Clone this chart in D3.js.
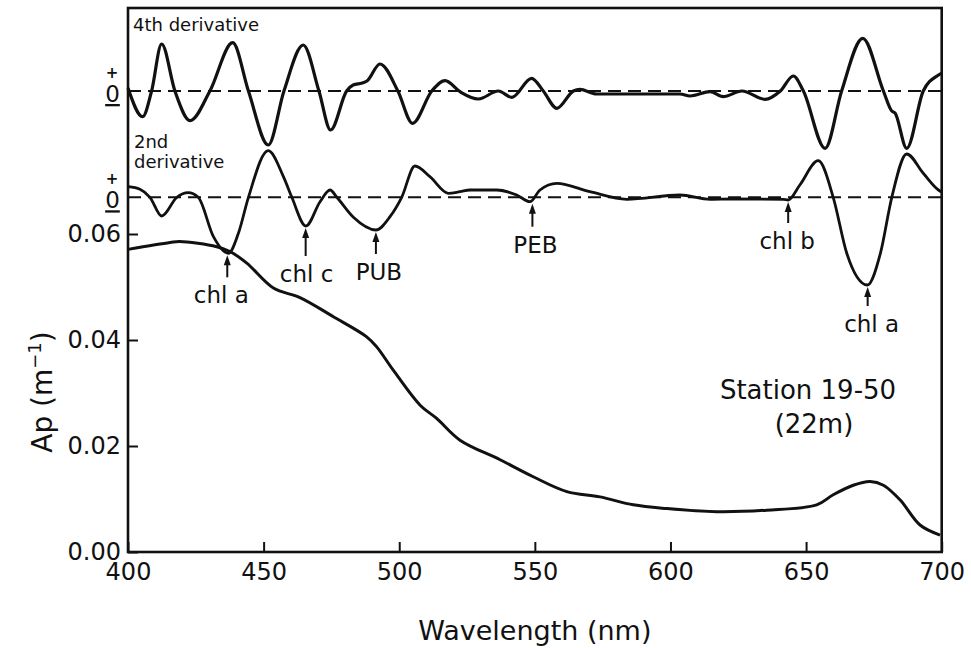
<!DOCTYPE html>
<html>
<head>
<meta charset="utf-8">
<script src="https://cdn.jsdelivr.net/npm/d3@7"></script>
<style>
  html, body { margin: 0; padding: 0; background: #fff; }
  svg { display: block; }
  text { font-family: "DejaVu Sans", "Liberation Sans", Arial, sans-serif; fill: #111; }
</style>
</head>
<body>
<svg id="chart" width="971" height="648"></svg>
<script>
// ---------------- DATA ----------------
const xTicks = [400, 450, 500, 550, 600, 650, 700];
const yTicks = [0.00, 0.02, 0.04, 0.06];

// Particulate absorption Ap (m^-1) vs wavelength (nm)
const apWavelength = [400, 415.5, 419, 432.7, 437.6, 443.8, 453.6, 463.4, 475.7, 488, 491.7, 497.8, 507.7, 513.8, 522.4, 537.2, 549.4, 561.8, 574, 586.3, 598.6, 617, 635.5, 653.9, 660, 667.4, 673.6, 678.5, 684.7, 692, 699.4];
const apValue      = [0.0571, 0.0584, 0.0586, 0.0576, 0.0567, 0.0545, 0.0498, 0.0480, 0.0444, 0.0406, 0.0387, 0.0343, 0.0277, 0.0252, 0.0211, 0.0174, 0.0142, 0.0114, 0.0104, 0.0089, 0.0082, 0.0076, 0.0079, 0.0089, 0.0108, 0.0126, 0.0133, 0.0126, 0.0098, 0.0051, 0.0032];

// 4th derivative (relative units)
const d4Wavelength = [400, 405.4, 408.7, 412.4, 417.3, 422.9, 430.2, 438.6, 444.4, 451.7, 457.5, 464.6, 470.4, 474.7, 480.6, 483, 486.3, 488.1, 492.9, 499.5, 504.9, 512, 516.9, 522.4, 529.2, 536.5, 541.5, 548.8, 553.1, 558.1, 564.2, 566.6, 572.8, 585, 603.5, 607.2, 614.6, 619.4, 626.3, 634.9, 640.5, 645.3, 649, 657, 663.1, 670.9, 678.5, 681.6, 682.8, 687.1, 693.2, 698.8, 700];
const d4Value      = [0.3, -2.57, 0, 4.7, 0, -2.97, 0, 4.83, 0, -5.4, 0, 4.6, 0, -3.9, 0, 0.6, 0.8, 1.0, 2.7, 0, -3.23, 0, 1.03, -0.07, -0.8, 0, -0.63, 1.27, 0, -1.73, 0, 0.17, -0.3, -0.3, -0.3, -0.5, -0.07, -0.57, 0, -0.83, 0, 1.5, 0, -5.73, 0, 5.27, 0, -2.0, -2.2, -5.73, 0, 1.6, 1.8];

// 2nd derivative (relative units)
const d2Wavelength = [400.1, 404.4, 408.1, 412.4, 418, 422.2, 425.9, 431.5, 437, 440.7, 444.4, 451.7, 457.3, 460.4, 465.6, 470.8, 474.5, 477, 483.1, 491.4, 496.6, 500.9, 505.8, 511.3, 518.1, 522.4, 526.1, 535.9, 543.3, 548.2, 551.9, 558.1, 570.3, 583.9, 603.5, 614.6, 623.2, 641.6, 643.4, 647.7, 654.5, 660, 665, 672.6, 677.4, 681.6, 687.1, 693.2, 698.8, 700];
const d2Value      = [1.06, 0.8, 0, -1.87, 0, 0.46, 0, -3.94, -5.6, -3.6, 0, 4.66, 2.06, 0, -2.87, -0.44, 0.73, 0, -2.0, -3.27, -1.94, 0, 3.13, 2.06, 0.4, 0.56, 0.73, 0.73, 0.23, -0.44, 0.73, 1.4, 0.56, -0.2, 0.23, -0.2, -0.17, -0.2, -0.27, 1.23, 3.66, 0, -5.6, -8.77, -5.6, 0, 4.33, 2.4, 0.73, 0.53];

// Pigment annotations on the 2nd derivative minima
const annLabels     = ["chl a", "chl c", "PUB", "PEB", "chl b", "chl a"];
const annWavelength = [436.6, 465.5, 491.4, 549.1, 643.4, 672.7];
const annValue      = [-5.6, -2.87, -3.27, -0.44, -0.27, -8.77];

const stationLines = ["Station 19-50", "(22m)"];

// ---------------- LAYOUT ----------------
const svg = d3.select("#chart");
const L = 128, R = 941.7, T = 8, B = 552;

const x = d3.scaleLinear().domain([400, 700]).range([L, R]);
const y = d3.scaleLinear().domain([0, 0.06]).range([B, 234]);
const y4 = d3.scaleLinear().domain([-1, 1]).range([91 + 10, 91 - 10]);
const y2 = d3.scaleLinear().domain([-1, 1]).range([197.3 + 10, 197.3 - 10]);

const ink = "#111";

// Axes
const xAxis = d3.axisBottom(x).tickValues(xTicks).tickSizeInner(-10).tickSizeOuter(0).tickPadding(11).tickFormat(d3.format("d"));
const gx = svg.append("g").attr("transform", `translate(0,${B})`).call(xAxis);
gx.select(".domain").remove();
gx.selectAll(".tick line").attr("stroke", ink).attr("stroke-width", 2);
gx.selectAll(".tick text").attr("font-size", 24).attr("fill", ink);

const yAxis = d3.axisLeft(y).tickValues(yTicks).tickSizeInner(-10).tickSizeOuter(0).tickPadding(7).tickFormat(d3.format(".2f"));
const gy = svg.append("g").attr("transform", `translate(${L},0)`).call(yAxis);
gy.select(".domain").remove();
gy.selectAll(".tick line").attr("stroke", ink).attr("stroke-width", 2);
gy.selectAll(".tick text").attr("font-size", 24).attr("fill", ink);

// Frame
svg.append("rect").attr("x", L).attr("y", T).attr("width", R - L).attr("height", B - T)
  .attr("fill", "none").attr("stroke", ink).attr("stroke-width", 2.6);

// Zero (dashed) lines
[y4(0), y2(0)].forEach(yy => {
  svg.append("line").attr("x1", L).attr("x2", R).attr("y1", yy).attr("y2", yy)
    .attr("stroke", ink).attr("stroke-width", 2).attr("stroke-dasharray", "13,7");
});

// Curves
const mk = (xs, ys) => xs.map((w, i) => [w, ys[i]]);
const lineAp = d3.line().x(d => x(d[0])).y(d => y(d[1])).curve(d3.curveCatmullRom.alpha(0.5));
const line4 = d3.line().x(d => x(d[0])).y(d => y4(d[1])).curve(d3.curveMonotoneX);
const line2 = d3.line().x(d => x(d[0])).y(d => y2(d[1])).curve(d3.curveMonotoneX);

svg.append("path").attr("d", lineAp(mk(apWavelength, apValue))).attr("fill", "none").attr("stroke", ink).attr("stroke-width", 3).attr("stroke-linejoin", "round");
svg.append("path").attr("d", line4(mk(d4Wavelength, d4Value))).attr("fill", "none").attr("stroke", ink).attr("stroke-width", 3.2).attr("stroke-linejoin", "round");
svg.append("path").attr("d", line2(mk(d2Wavelength, d2Value))).attr("fill", "none").attr("stroke", ink).attr("stroke-width", 2.8).attr("stroke-linejoin", "round");

// Derivative labels
svg.append("text").attr("x", 133).attr("y", 31).attr("font-size", 18).text("4th derivative");
const t2 = svg.append("text").attr("font-size", 18);
t2.append("tspan").attr("x", 134).attr("y", 148).text("2nd");
t2.append("tspan").attr("x", 134).attr("y", 168).text("derivative");

// + / 0 (underlined as the minus sign) markers left of the axis
[y4(0), y2(0)].forEach(yy => {
  svg.append("text").attr("x", 112).attr("y", yy - 13).attr("font-size", 15).attr("font-weight", "bold")
    .attr("text-anchor", "middle").text("+");
  svg.append("text").attr("x", 112.5).attr("y", yy + 11).attr("font-size", 23).attr("text-anchor", "middle")
    .style("text-decoration", "underline")
    .style("text-underline-offset", "6px")
    .style("text-decoration-thickness", "2px")
    .text("0");
});

// Annotations (arrows pointing up to 2nd-derivative minima)
const annDx = [-6, 1, 3, 3, -1, 4];
const annLen = [22, 28, 22, 23, 21, 19];
annLabels.forEach((lab, i) => {
  const ax = x(annWavelength[i]);
  const tip = y2(annValue[i]) + 2;
  const tail = tip + annLen[i];
  svg.append("line").attr("x1", ax).attr("x2", ax).attr("y1", tip + 6).attr("y2", tail)
    .attr("stroke", ink).attr("stroke-width", 2);
  svg.append("path").attr("d", `M${ax},${tip} L${ax - 3.5},${tip + 10} L${ax + 3.5},${tip + 10} Z`).attr("fill", ink);
  svg.append("text").attr("x", ax + annDx[i]).attr("y", tail + 26).attr("font-size", 23)
    .attr("text-anchor", "middle").text(lab);
});

// Station text
const st = svg.append("text").attr("font-size", 26).attr("text-anchor", "middle");
st.append("tspan").attr("x", 808).attr("y", 399).text(stationLines[0]);
st.append("tspan").attr("x", 814).attr("y", 433).text(stationLines[1]);

// Axis titles
svg.append("text").attr("x", (L + R) / 2).attr("y", 640).attr("font-size", 27).attr("text-anchor", "middle").text("Wavelength (nm)");
const yt = svg.append("text").attr("transform", "translate(52,392) rotate(-90)").attr("font-size", 28).attr("text-anchor", "middle");
yt.append("tspan").text("Ap (m");
yt.append("tspan").attr("font-size", 18).attr("dy", -11).text("−1");
yt.append("tspan").attr("dy", 11).text(")");
</script>
</body>
</html>
